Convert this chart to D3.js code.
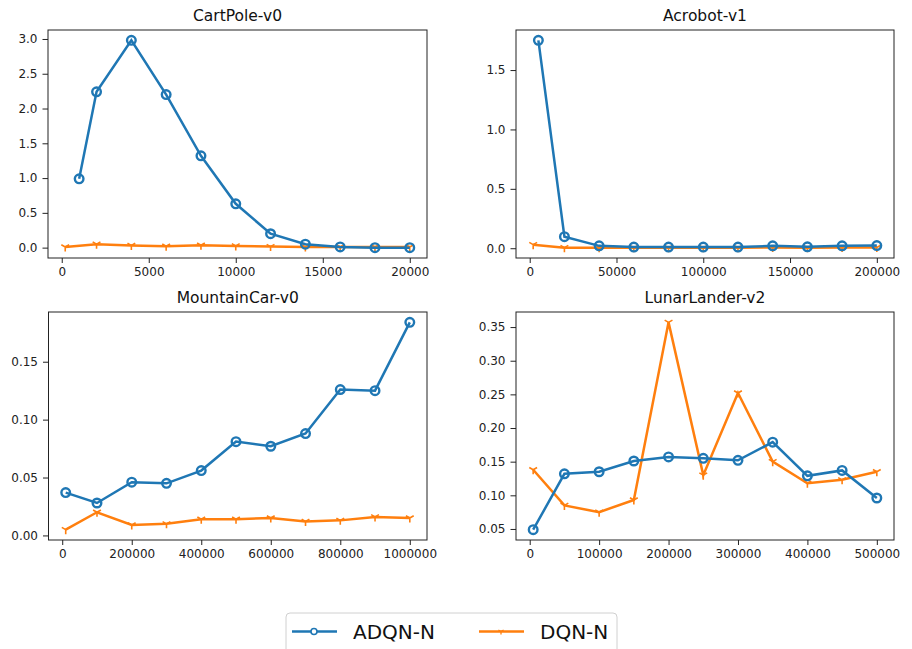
<!DOCTYPE html>
<html>
<head>
<meta charset="utf-8">
<script src="https://cdn.jsdelivr.net/npm/d3@7"></script>
<style>
  body { margin: 0; background: #fff; }
  svg, svg text { font-family: "DejaVu Sans", sans-serif; }
</style>
</head>
<body>
<div id="chart"></div>
<script>
// datos
var seriesNames = ["ADQN-N", "DQN-N"];
var envNames = ["CartPole-v0", "Acrobot-v1", "MountainCar-v0", "LunarLander-v2"];

var cartStepsA = [1000, 2000, 4000, 6000, 8000, 10000, 12000, 14000, 16000, 18000, 20000];
var cartAdqn   = [0.99, 2.24, 2.98, 2.20, 1.32, 0.63, 0.20, 0.05, 0.01, 0.0, 0.0];
var cartStepsD = [200, 2000, 4000, 6000, 8000, 10000, 12000, 14000, 16000, 18000, 20000];
var cartDqn    = [0.01, 0.05, 0.03, 0.02, 0.035, 0.025, 0.015, 0.01, 0.01, 0.01, 0.01];

var acroStepsA = [5000, 20000, 40000, 60000, 80000, 100000, 120000, 140000, 160000, 180000, 200000];
var acroAdqn   = [1.75, 0.097, 0.02, 0.01, 0.01, 0.01, 0.01, 0.02, 0.012, 0.02, 0.022];
var acroStepsD = [2000, 20000, 40000, 60000, 80000, 100000, 120000, 140000, 160000, 180000, 200000];
var acroDqn    = [0.03, 0.005, 0.005, 0.005, 0.005, 0.005, 0.005, 0.006, 0.005, 0.006, 0.006];

var mountSteps = [10000, 100000, 200000, 300000, 400000, 500000, 600000, 700000, 800000, 900000, 1000000];
var mountAdqn  = [0.037, 0.028, 0.046, 0.045, 0.056, 0.081, 0.077, 0.088, 0.126, 0.125, 0.184];
var mountDqn   = [0.005, 0.020, 0.009, 0.010, 0.014, 0.014, 0.015, 0.012, 0.013, 0.016, 0.015];

var lunarSteps = [5000, 50000, 100000, 150000, 200000, 250000, 300000, 350000, 400000, 450000, 500000];
var lunarAdqn  = [0.049, 0.132, 0.135, 0.151, 0.157, 0.155, 0.152, 0.179, 0.129, 0.137, 0.096];
var lunarDqn   = [0.138, 0.085, 0.075, 0.093, 0.357, 0.130, 0.252, 0.150, 0.118, 0.123, 0.135];

var cartXTicks  = [0, 5000, 10000, 15000, 20000];
var cartYTicks  = [0, 0.5, 1.0, 1.5, 2.0, 2.5, 3.0];
var acroXTicks  = [0, 50000, 100000, 150000, 200000];
var acroYTicks  = [0, 0.5, 1.0, 1.5];
var mountXTicks = [0, 200000, 400000, 600000, 800000, 1000000];
var mountYTicks = [0, 0.05, 0.10, 0.15];
var lunarXTicks = [0, 100000, 200000, 300000, 400000, 500000];
var lunarYTicks = [0.05, 0.10, 0.15, 0.20, 0.25, 0.30, 0.35];

var colors = ["#1f77b4", "#ff7f0e"];

var width = 912, height = 649;

var panels = [
  {title: envNames[0], xa: cartStepsA, ya: cartAdqn, xd: cartStepsD, yd: cartDqn,
   xt: cartXTicks, yt: cartYTicks, yf: ".1f", box: [48, 427, 30, 258]},
  {title: envNames[1], xa: acroStepsA, ya: acroAdqn, xd: acroStepsD, yd: acroDqn,
   xt: acroXTicks, yt: acroYTicks, yf: ".1f", box: [516, 894, 30, 258]},
  {title: envNames[2], xa: mountSteps, ya: mountAdqn, xd: mountSteps, yd: mountDqn,
   xt: mountXTicks, yt: mountYTicks, yf: ".2f", box: [48.5, 427, 312, 540]},
  {title: envNames[3], xa: lunarSteps, ya: lunarAdqn, xd: lunarSteps, yd: lunarDqn,
   xt: lunarXTicks, yt: lunarYTicks, yf: ".2f", box: [516, 894, 312, 540]}
];

var svg = d3.select("#chart").append("svg")
  .attr("width", width)
  .attr("height", height);

// dominio con 5% de margen, como matplotlib
function padded(vals) {
  var ext = d3.extent(vals);
  var m = (ext[1] - ext[0]) * 0.05;
  return [ext[0] - m, ext[1] + m];
}

function triDown(s) {
  var c = s * 0.866, h = s * 0.5;
  return "M0,0L0," + s + "M0,0L" + (-c) + "," + (-h) + "M0,0L" + c + "," + (-h);
}

panels.forEach(function(p) {
  var x = d3.scaleLinear()
    .domain(padded(p.xa.concat(p.xd)))
    .range([p.box[0], p.box[1]]);
  var y = d3.scaleLinear()
    .domain(padded(p.ya.concat(p.yd)))
    .range([p.box[3], p.box[2]]);

  var g = svg.append("g");

  // ejes
  var xAxis = g.append("g")
    .attr("transform", "translate(0," + p.box[3] + ")")
    .call(d3.axisBottom(x).tickValues(p.xt).tickFormat(d3.format("d")).tickSize(5).tickPadding(4).tickSizeOuter(0));
  var yAxis = g.append("g")
    .attr("transform", "translate(" + p.box[0] + ",0)")
    .call(d3.axisLeft(y).tickValues(p.yt).tickFormat(d3.format(p.yf)).tickSize(5.5).tickPadding(5).tickSizeOuter(0));
  [xAxis, yAxis].forEach(function(a) {
    a.attr("font-family", "DejaVu Sans").attr("font-size", 12);
    a.select(".domain").remove();
    a.selectAll("line").attr("stroke", "#222");
    a.selectAll("text").attr("fill", "#222");
  });

  g.append("rect")
    .attr("x", p.box[0]).attr("y", p.box[2])
    .attr("width", p.box[1] - p.box[0])
    .attr("height", p.box[3] - p.box[2])
    .attr("fill", "none")
    .attr("stroke", "#222")
    .attr("stroke-width", 1);

  g.append("text")
    .attr("x", (p.box[0] + p.box[1]) / 2)
    .attr("y", p.box[2] - 9)
    .attr("text-anchor", "middle")
    .style("font-size", "15.5px")
    .attr("fill", "#111")
    .text(p.title);

  var line = d3.line()
    .x(function(d) { return x(d[0]); })
    .y(function(d) { return y(d[1]); });

  var ptsA = p.xa.map(function(v, i) { return [v, p.ya[i]]; });
  var ptsD = p.xd.map(function(v, i) { return [v, p.yd[i]]; });

  // DQN-N
  g.append("path").datum(ptsD)
    .attr("d", line)
    .attr("fill", "none")
    .attr("stroke", colors[1])
    .attr("stroke-width", 2.5);
  g.selectAll(".tri").data(ptsD).enter().append("path")
    .attr("d", triDown(4.5))
    .attr("transform", function(d) { return "translate(" + x(d[0]) + "," + y(d[1]) + ")"; })
    .attr("stroke", colors[1])
    .attr("stroke-width", 1.6)
    .attr("fill", "none");

  // ADQN-N
  g.append("path").datum(ptsA)
    .attr("d", line)
    .attr("fill", "none")
    .attr("stroke", colors[0])
    .attr("stroke-width", 2.5);
  g.selectAll(".circ").data(ptsA).enter().append("circle")
    .attr("cx", function(d) { return x(d[0]); })
    .attr("cy", function(d) { return y(d[1]); })
    .attr("r", 4.3)
    .attr("fill", "none")
    .attr("stroke", colors[0])
    .attr("stroke-width", 2.4);
});

// leyenda
var leg = svg.append("g");
leg.append("rect")
  .attr("x", 286).attr("y", 613)
  .attr("width", 331).attr("height", 46)
  .attr("rx", 4)
  .attr("fill", "#fff")
  .attr("stroke", "#d0d0d0");

var legX = [292, 479];
seriesNames.forEach(function(name, i) {
  var lx = legX[i], ly = 631.5;
  leg.append("line")
    .attr("x1", lx).attr("x2", lx + 45)
    .attr("y1", ly).attr("y2", ly)
    .attr("stroke", colors[i])
    .attr("stroke-width", 2.5);
  if (i === 0) {
    leg.append("circle")
      .attr("cx", lx + 22).attr("cy", ly).attr("r", 3)
      .attr("fill", "#fff").attr("stroke", colors[i]).attr("stroke-width", 1.6);
  } else {
    leg.append("path")
      .attr("d", triDown(3))
      .attr("transform", "translate(" + (lx + 22) + "," + ly + ")")
      .attr("stroke", colors[i]).attr("stroke-width", 1.3).attr("fill", "none");
  }
  leg.append("text")
    .attr("x", lx + 61).attr("y", ly + 7.5)
    .style("font-size", "20px")
    .attr("fill", "#111")
    .text(name);
});
</script>
</body>
</html>
